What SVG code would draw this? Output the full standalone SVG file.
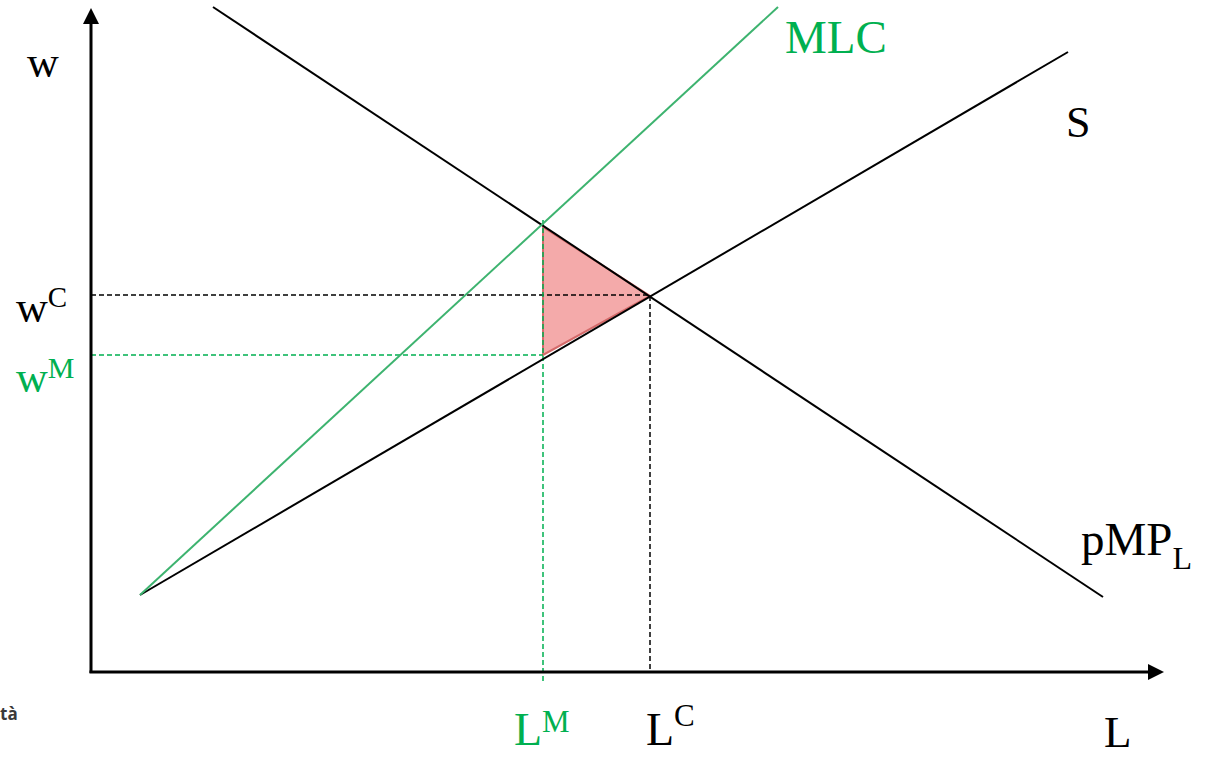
<svg xmlns="http://www.w3.org/2000/svg" width="1210" height="757" viewBox="0 0 1210 757">
<style>
.t{font-family:"Liberation Serif","Times New Roman",serif;}
.blk{fill:#000;}
.grn{fill:#00b050;}
.ax{stroke:#000;stroke-width:3;fill:none;}
.crv{stroke:#000;stroke-width:2;fill:none;}
.mlc{stroke:#3db36f;stroke-width:2;fill:none;}
.dk{stroke:#000;stroke-width:1.5;stroke-dasharray:5,3;fill:none;}
.dg{stroke:#00b050;stroke-width:1.5;stroke-dasharray:5,3;fill:none;}
</style>
<rect width="1210" height="757" fill="#fff"/>
<g id="triangle">
<polygon points="543,227 650,296 543,355" fill="#f4aaaa" stroke="#d46a6a" stroke-width="2"/>
</g>
<g id="connectors">
<line class="dk" x1="91" y1="295" x2="650" y2="295"/>
<line class="dk" x1="650" y1="296" x2="650" y2="672"/>
<line class="dg" x1="91" y1="355" x2="543" y2="355"/>
<line class="dg" x1="543" y1="220" x2="543" y2="681"/>
<line class="crv" x1="213" y1="7" x2="1103" y2="597"/>
<line class="crv" x1="140" y1="595" x2="1068" y2="52"/>
<line class="mlc" x1="140" y1="595" x2="778" y2="7"/>
</g>
<g id="axes">
<line class="ax" x1="91" y1="673" x2="91" y2="22"/>
<polygon points="91,8 83,24 99,24" fill="#000"/>
<line class="ax" x1="89.5" y1="672" x2="1150" y2="672"/>
<polygon points="1164,672 1148,664 1148,680" fill="#000"/>
</g>
<g id="labels">
<text class="t blk" x="27" y="77" font-size="44">w</text>
<text class="t grn" x="785" y="53" font-size="47">MLC</text>
<text class="t blk" x="1066" y="137" font-size="44">S</text>
<text class="t blk" x="1081" y="555" font-size="47">pMP<tspan font-size="32" dy="14">L</tspan></text>
<text class="t blk" x="16" y="322" font-size="44">w<tspan font-size="29" dy="-15">C</tspan></text>
<text class="t grn" x="16" y="392" font-size="44">w<tspan font-size="30" dy="-14">M</tspan></text>
<text class="t grn" x="514" y="745" font-size="46">L<tspan font-size="31" dy="-13">M</tspan></text>
<text class="t blk" x="646" y="745" font-size="46">L<tspan font-size="31" dy="-19">C</tspan></text>
<text class="t blk" x="1104" y="747" font-size="45">L</text>
<text x="0" y="720" font-size="17" font-weight="bold" fill="#3a3a3a" font-family="'Open Sans','Noto Sans',sans-serif">tà</text>
</g>
</svg>
